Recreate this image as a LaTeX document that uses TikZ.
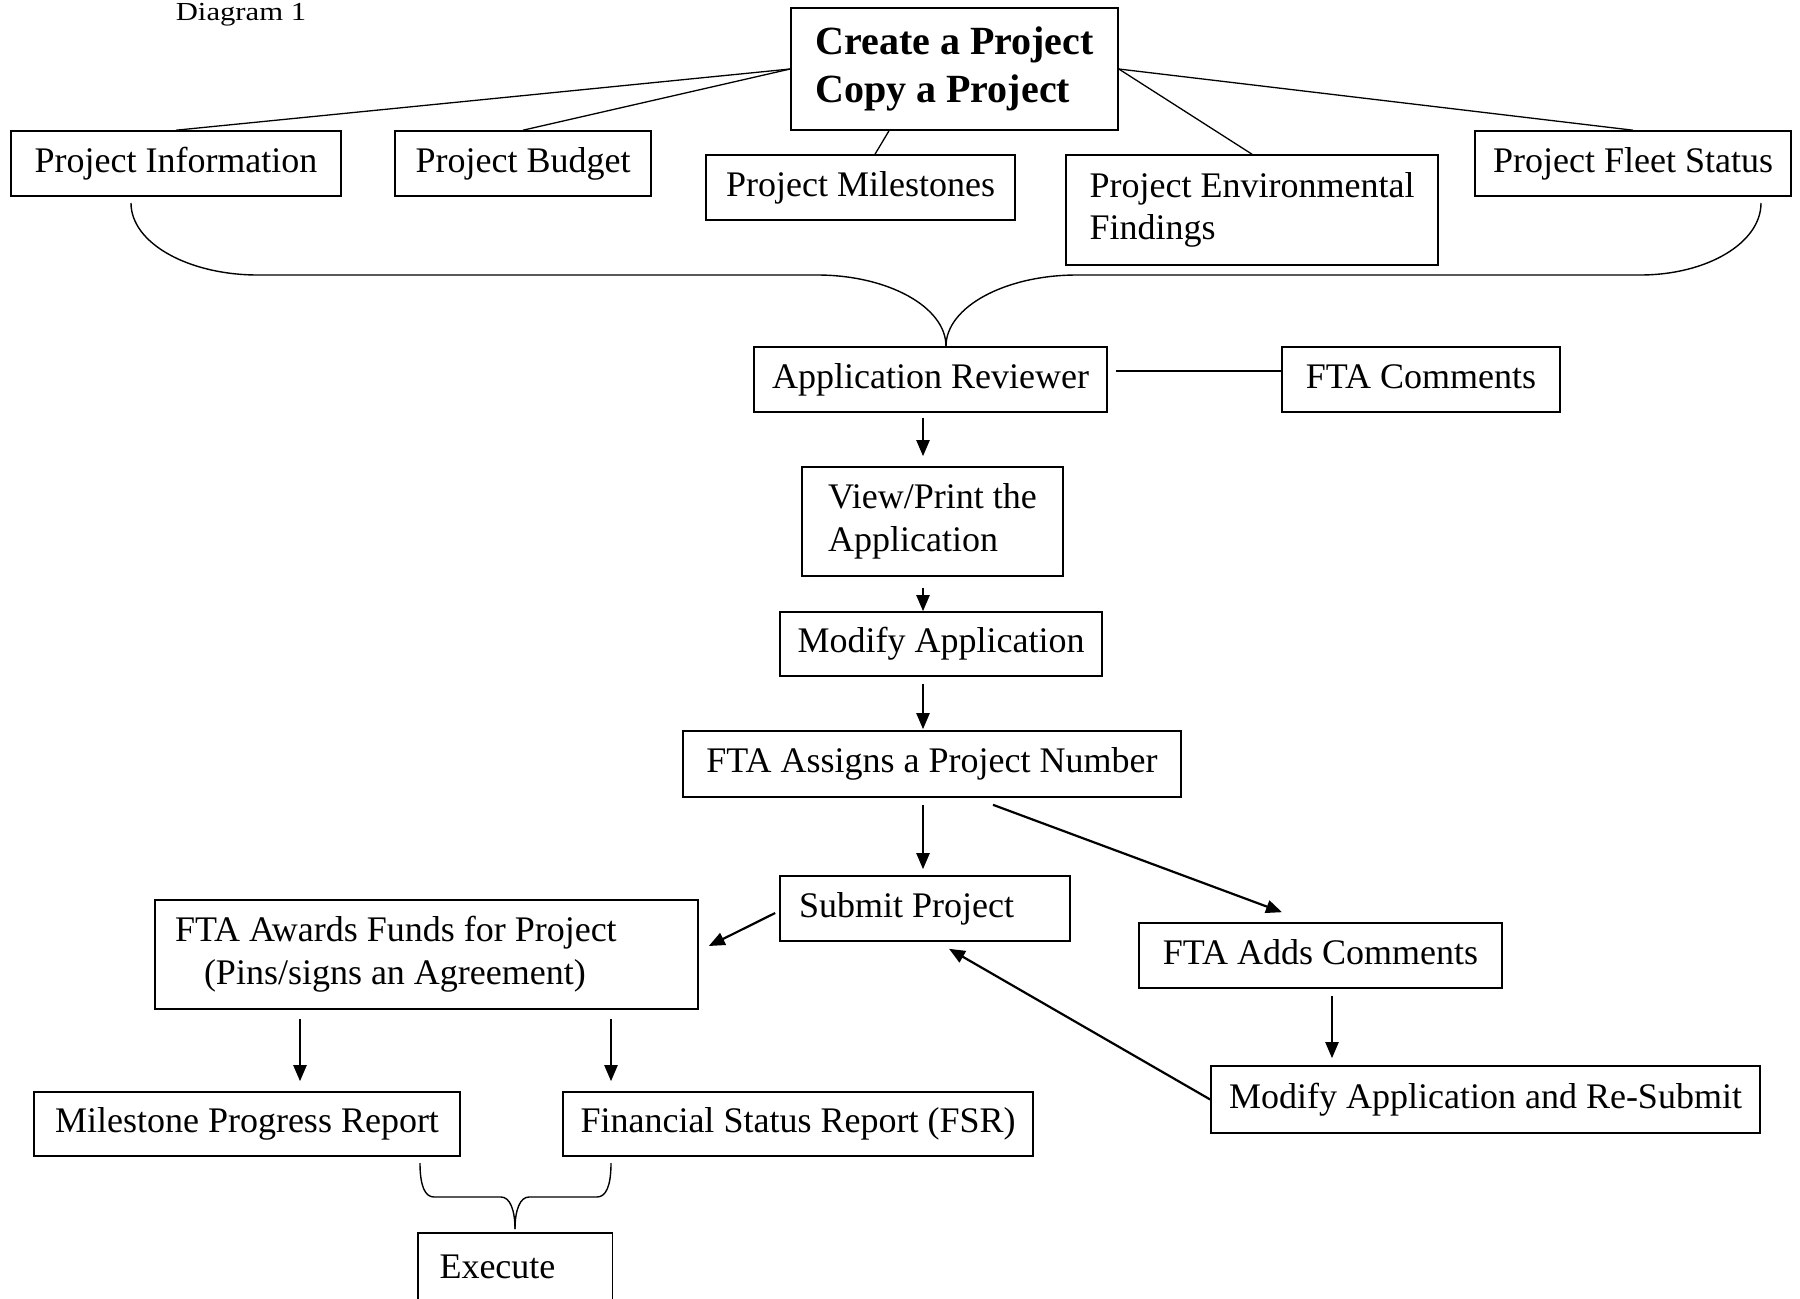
\documentclass[tikz,border=0pt]{standalone}
\usepackage{fontspec}
\usepackage{graphicx}
\setmainfont{Liberation Serif}
\usetikzlibrary{arrows.meta,calc}
\tikzset{
  bx/.style={draw, line width=1.6pt, inner sep=0pt, align=center,
    font=\fontsize{36}{42.5}\selectfont, text height=25pt, text depth=8pt},
  twoline/.style={text height=67.5pt, text depth=8pt},
  conn/.style={line width=1.3pt},
  arr/.style={line width=2.2pt, -{Triangle[length=16pt,width=13pt]}},
  brc/.style={line width=1.4pt},
}
\begin{document}
\begin{tikzpicture}[x=1pt,y=-1pt]
\useasboundingbox (0,0) rectangle (1800,1299);

\node[font=\fontsize{26}{30}\selectfont] (title) at (241,15) {\scalebox{1.18}[1]{Diagram 1}};

\node[bx, minimum width=327pt, minimum height=122pt, align=left, text height=75pt, text depth=9pt,
  font=\bfseries\fontsize{40}{48}\selectfont] (create) at (954.5,69) {Create a Project\\Copy a Project};
\node[bx, minimum width=330pt, minimum height=65pt] (info) at (176,163.5) {Project Information};
\node[bx, minimum width=256pt, minimum height=65pt] (budget) at (523,163.5) {Project Budget};
\node[bx, minimum width=309pt, minimum height=65pt] (miles) at (860.5,187.5) {Project Milestones};
\node[bx, twoline, minimum width=372pt, minimum height=110pt, align=left] (env) at (1252,210) {Project Environmental\\Findings};
\node[bx, minimum width=316pt, minimum height=65pt] (fleet) at (1633,163.5) {Project Fleet Status};

\node[bx, minimum width=353pt, minimum height=65pt] (apprev) at (930.5,379.5) {Application Reviewer};
\node[bx, minimum width=278pt, minimum height=65pt] (ftacom) at (1421,379.5) {FTA Comments};
\node[bx, twoline, minimum width=261pt, minimum height=109pt, align=left] (view) at (932.5,521.5) {View/Print the\\Application};
\node[bx, minimum width=322pt, minimum height=64pt] (modify) at (941,644) {Modify Application};
\node[bx, minimum width=498pt, minimum height=66pt] (assign) at (932,764) {FTA Assigns a Project Number};
\node[bx, text width=252pt, inner xsep=19pt, minimum height=65pt, align=flush left] (submit) at (925,908.5) {Submit Project};
\node[bx, text width=503pt, inner xsep=20pt, minimum height=109pt, align=flush left, text height=25pt, text depth=50.5pt] (awards) at (426.5,954.5) {FTA Awards Funds for Project\\\hspace*{29pt}(Pins/signs an Agreement)};
\node[bx, minimum width=363pt, minimum height=65pt] (adds) at (1320.5,955.5) {FTA Adds Comments};
\node[bx, minimum width=549pt, minimum height=67pt] (resub) at (1485.5,1099.5) {Modify Application and Re-Submit};
\node[bx, minimum width=426pt, minimum height=64pt] (mpr) at (247,1124) {Milestone Progress Report};
\node[bx, minimum width=470pt, minimum height=64pt] (fsr) at (798,1124) {Financial Status Report (FSR)};
\node[bx, draw=none, text width=151pt, inner xsep=21pt, minimum height=71pt, align=flush left] (exec) at (515,1269.5) {Execute};
\draw[line width=1.6pt] ($(exec.north west)+(0,120)$) -- (exec.north west) -- (exec.north east) -- ++(0,120);

% top connectors
\draw[conn] (create.west) -- (info.north);
\draw[conn] (create.west) -- (budget.north);
\draw[conn] ($(create.south)+(-65.5,0)$) -- ($(miles.north)+(14.5,0)$);
\draw[conn] (create.east) -- (env.north);
\draw[conn] (create.east) -- (fleet.north);

% big brace
\coordinate (bl) at (131,203);
\coordinate (br) at (1761,203);
\coordinate (btip) at ($(apprev.north)+(15.5,0)$);
\draw[brc] (bl) .. controls (131,243) and (188,275) .. (258,275) -- (817,275)
  .. controls (888,275) and (946,307) .. (btip);
\draw[brc] (br) .. controls (1761,243) and (1707,275) .. (1640,275) -- (1077,275)
  .. controls (1005,275) and (946,307) .. (btip);

% reviewer - comments
\draw[conn] ($(apprev.east)+(8,-8.5)$) -- ($(ftacom.west)+(0,-8.5)$);

% arrows
\coordinate (ax) at (923,0);
\coordinate (ax2) at (1332,0);
\coordinate (ax3) at (300,0);
\coordinate (ax4) at (611,0);
\draw[arr, shorten <=5pt, shorten >=10pt] (apprev.south -| ax) -- (view.north -| ax);
\draw[arr, shorten <=11pt] (view.south -| ax) -- (modify.north -| ax);
\draw[arr, shorten <=7pt, shorten >=1pt] (modify.south -| ax) -- (assign.north -| ax);
\draw[arr, shorten <=7pt, shorten >=6pt] (assign.south -| ax) -- (submit.north -| ax);
\draw[arr] ($(assign.south)+(61,7)$) -- ($(adds.north)+(-38.5,-10)$);
\draw[arr] ($(submit.west)+(-4,4.5)$) -- ($(awards.east)+(10,-8.5)$);
\draw[arr] (resub.west) -- ($(submit.south)+(24,7)$);
\draw[arr, shorten <=7pt, shorten >=7pt] (adds.south -| ax2) -- (resub.north -| ax2);
\draw[arr, shorten <=9pt, shorten >=10pt] (awards.south -| ax3) -- (mpr.north -| ax3);
\draw[arr, shorten <=9pt, shorten >=10pt] (awards.south -| ax4) -- (fsr.north -| ax4);

% small brace
\coordinate (sl) at (420,1163);
\coordinate (sr) at (611,1163);
\coordinate (stip) at ($(exec.north)+(0,-4)$);
\draw[brc] (sl) .. controls (420,1186) and (425,1197) .. (434,1197) -- (501,1197)
  .. controls (510,1197) and (515,1210) .. (stip);
\draw[brc] (sr) .. controls (611,1186) and (606,1197) .. (597,1197) -- (529,1197)
  .. controls (520,1197) and (515,1210) .. (stip);
\end{tikzpicture}
\end{document}
